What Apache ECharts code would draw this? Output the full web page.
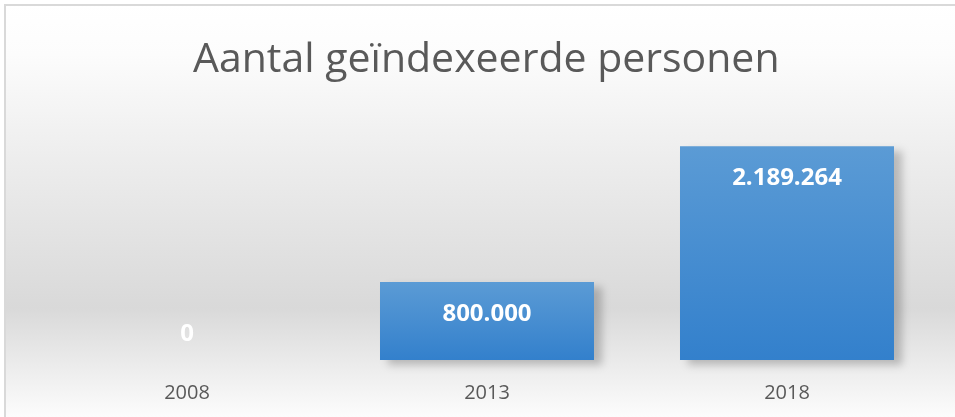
<!DOCTYPE html>
<html>
<head>
	<meta charset="utf-8">
	<script src="https://cdn.jsdelivr.net/npm/echarts@6/dist/echarts.min.js"></script>
	<style>
		html,body{margin:0;padding:0;background:#fff;}
	</style>
</head>
<body>
	<div id="main" style="width:955px;height:417px;"></div>
<script type="text/javascript">
var titleText = 'Aantal geïndexeerde personen';
var years = ['2008', '2013', '2018'];
var personen = [0, 800000, 2189264];

function fmt(v){
	return String(v).replace(/\B(?=(\d{3})+(?!\d))/g, '.');
}

var barData = personen.map(function (v) {
	if (v === 0) {
		// Excel zet het label boven een lege staaf
		return {value: v, label: {position: 'top', distance: 14}};
	}
	return v;
});

var myChart = echarts.init(document.getElementById('main'));
var option = {
	animation: false,
	backgroundColor: '#ffffff',
	graphic: [{
		type: 'rect',
		silent: true,
		z: -10,
		shape: {x: 5, y: 5, width: 960, height: 420},
		style: {
			fill: new echarts.graphic.LinearGradient(0, 0, 0, 1, [
				{offset: 0, color: '#ffffff'},
				{offset: 0.12, color: '#fcfcfc'},
				{offset: 0.35, color: '#eeeeee'},
				{offset: 0.72, color: '#d9d9d9'},
				{offset: 0.86, color: '#ececec'},
				{offset: 1, color: '#ffffff'}
			]),
			stroke: '#d9d9d9',
			lineWidth: 2
		}
	}],
	title: {
		text: titleText,
		left: 188,
		top: 35,
		textStyle: {
			fontFamily: 'Open Sans',
			fontWeight: 'normal',
			fontSize: 41,
			color: '#595959'
		}
	},
	grid: {
		left: 37,
		right: 18,
		top: 116,
		bottom: 57
	},
	xAxis: {
		type: 'category',
		data: years,
		axisLine: {show: false},
		axisTick: {show: false},
		axisLabel: {
			margin: 23,
			fontFamily: 'Open Sans',
			fontSize: 20,
			color: '#595959'
		}
	},
	yAxis: {
		type: 'value',
		min: 0,
		max: 2500000,
		show: false,
		splitLine: {show: false}
	},
	series: [{
		type: 'bar',
		data: barData,
		barWidth: 214,
		itemStyle: {
			color: new echarts.graphic.LinearGradient(0, 0, 0, 1, [
				{offset: 0, color: '#5b9bd5'},
				{offset: 1, color: '#3380cc'}
			]),
			shadowColor: 'rgba(0,0,0,0.22)',
			shadowBlur: 8,
			shadowOffsetX: 8,
			shadowOffsetY: 5
		},
		label: {
			show: true,
			position: 'insideTop',
			distance: 20,
			formatter: function (p) { return fmt(p.value); },
			fontFamily: 'Open Sans',
			fontWeight: 'bold',
			fontSize: 24,
			color: '#ffffff'
		}
	}]
};
myChart.setOption(option);
</script>
</body>
</html>
